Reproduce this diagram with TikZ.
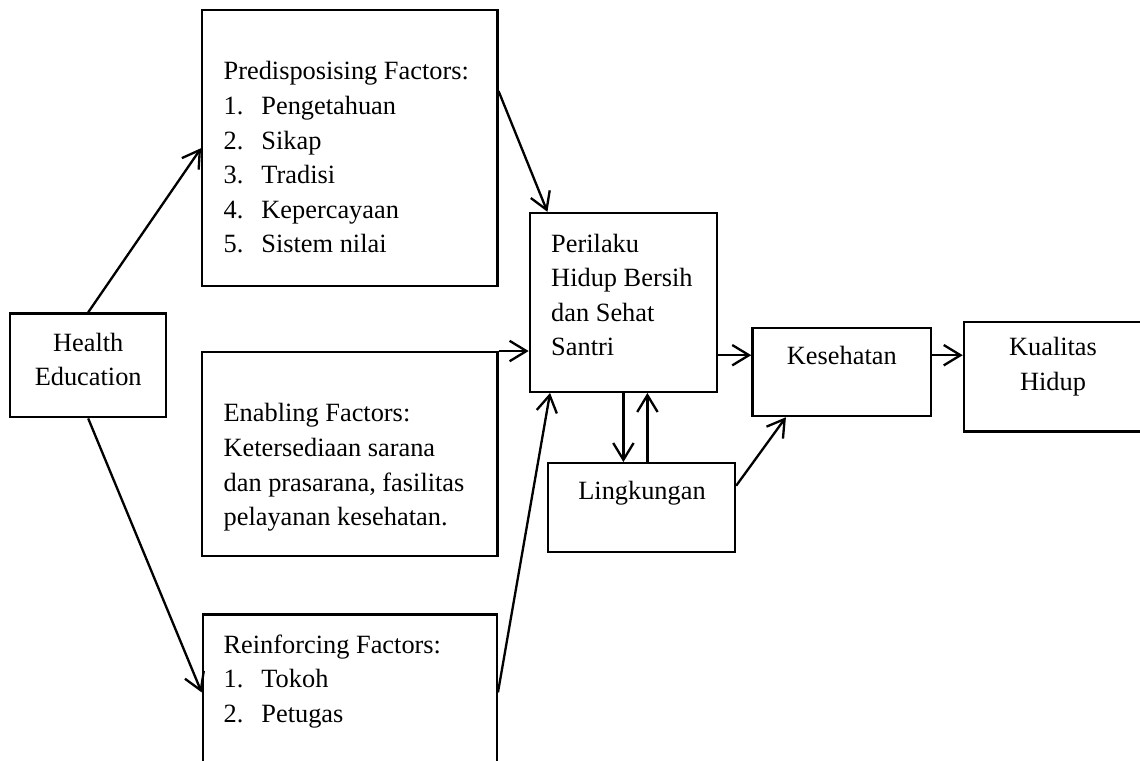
\documentclass[tikz,border=0pt]{standalone}
\usepackage{fontspec}
\setmainfont{Liberation Serif}
\usepackage{tikz}
\usetikzlibrary{arrows.meta,positioning}
\newcommand{\itemno}[1]{\makebox[0.63cm][l]{#1}}
\tikzset{
  box/.style={draw, line width=1.1pt, inner sep=0pt},
  txt/.style={inner sep=0pt, align=left},
  arr/.style={line width=1.1pt, -{Straight Barb[length=2.8mm,width=3.4mm]}}
}
\begin{document}
\begin{tikzpicture}[font=\fontsize{12.5}{16.4}\selectfont]
    \useasboundingbox (0,0) rectangle (19,12.67);

    % Boxes
    \node[box, minimum width=2.60cm, minimum height=1.73cm] (he) at (1.47,6.58) {};
    \node[box, minimum width=4.92cm, minimum height=4.60cm] (pre) at (5.83,10.20) {};
    \node[box, minimum width=4.92cm, minimum height=3.40cm] (ena) at (5.83,5.10) {};
    \node[box, minimum width=4.90cm, minimum height=2.60cm] (rei) at (5.83,1.13) {};
    \node[box, minimum width=3.12cm, minimum height=2.98cm] (phbs) at (10.39,7.63) {};
    \node[box, minimum width=3.12cm, minimum height=1.48cm] (ling) at (10.69,4.21) {};
    \node[box, minimum width=2.98cm, minimum height=1.47cm] (kes) at (14.03,6.47) {};
    \node[box, minimum width=2.97cm, minimum height=1.82cm] (kua) at (17.55,6.39) {};

    % Labels
    \node[txt, align=center] (het) at (1.47,6.68) {Health\\Education};
    \node[txt, anchor=north west] (pret) at (3.72,11.65) {Predisposising Factors:\\
        \itemno{1.}Pengetahuan\\ \itemno{2.}Sikap\\ \itemno{3.}Tradisi\\
        \itemno{4.}Kepercayaan\\ \itemno{5.}Sistem nilai};
    \node[txt, anchor=north west] (enat) at (3.72,5.95) {Enabling Factors:\\
        Ketersediaan sarana\\ dan prasarana, fasilitas\\ pelayanan kesehatan.};
    \node[txt, anchor=north west] (reit) at (3.72,2.10) {Reinforcing Factors:\\
        \itemno{1.}Tokoh\\ \itemno{2.}Petugas};
    \node[txt, anchor=north west] (phbst) at (9.18,8.78) {Perilaku\\ Hidup Bersih\\ dan Sehat\\ Santri};
    \node[txt] (lingt) at (10.70,4.45) {Lingkungan};
    \node[txt] (kest) at (14.03,6.75) {Kesehatan};
    \node[txt, align=center] (kuat) at (17.55,6.56) {Kualitas\\Hidup};

    % Arrows
    \coordinate (lane) at (0,6.75);
    \coordinate (up) at ([xshift=4mm]phbs.south);
    \draw[arr] (he.north) -- (pre.west);
    \draw[arr] (he.south) -- (rei.west);
    \draw[arr] (pre.21.5) -- (phbs.130);
    \draw[arr] (ena.north east) -- (ena.north east -| phbs.west);
    \draw[arr] (rei.east) -- (phbs.231);
    \draw[arr] (phbs.south) -- (phbs.south |- ling.north);
    \draw[arr] (up |- ling.north) -- (up);
    \draw[arr] (phbs.east |- lane) -- (kes.west |- lane);
    \draw[arr] (ling.13) -- (kes.219);
    \draw[arr] (kes.east |- lane) -- (kua.west |- lane);
\end{tikzpicture}
\end{document}
